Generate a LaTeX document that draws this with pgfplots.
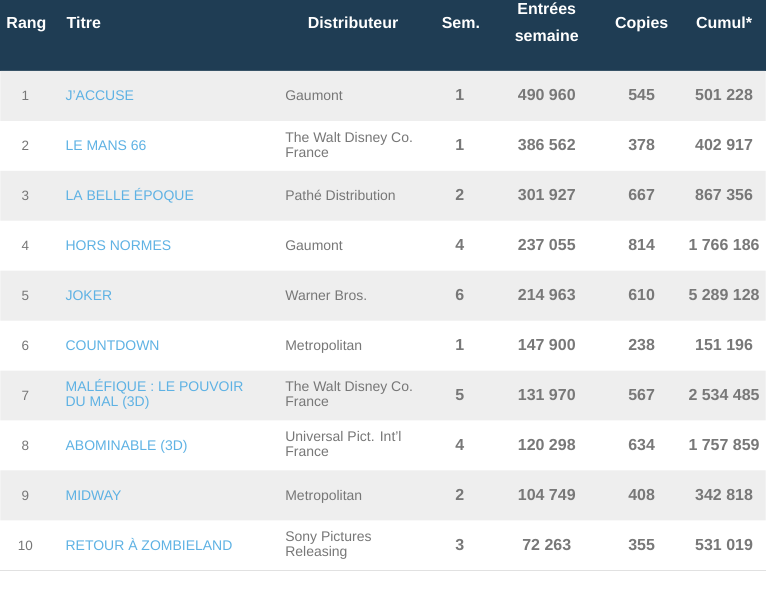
\documentclass[border=0pt]{standalone}
\usepackage{pgfplots}
\usepackage{pgfplotstable}
\usepackage{fontspec}
\setmainfont{Liberation Sans}
\pgfplotsset{compat=1.18}

\definecolor{hdr}{RGB}{31,61,84}
\definecolor{rowgray}{RGB}{238,238,238}
\definecolor{txtgray}{RGB}{119,119,119}
\definecolor{numgray}{RGB}{120,120,120}
\definecolor{titleblue}{RGB}{94,178,228}
\definecolor{linegray}{RGB}{225,225,225}

% header labels (baseline y, centred at x)
\pgfplotstableread[col sep=semicolon]{
x;y;t
26;28.5;Rang
353;28.5;Distributeur
461;28.5;Sem.
547;15;Entrées
547;42;semaine
642;29;Copies
724.5;29;Cumul*
}\headc

% titles (left aligned at x=65)
\pgfplotstableread[col sep=semicolon]{
x;y;t
65;101;J'ACCUSE
65;151;LE MANS 66
65;201;LA BELLE ÉPOQUE
65;251;HORS NORMES
65;301;JOKER
65;351;COUNTDOWN
65;392.5;MALÉFIQUE : LE POUVOIR
65;407.5;DU MAL (3D)
65;451;ABOMINABLE (3D)
65;501;MIDWAY
65;551;RETOUR À ZOMBIELAND
}\titres

% distributors (left aligned at x=285)
\pgfplotstableread[col sep=semicolon]{
x;y;t
285;101;Gaumont
285;142.5;The Walt Disney Co.
285;157.5;France
285;201;Pathé Distribution
285;251;Gaumont
285;301;Warner Bros.
285;351;Metropolitan
285;392.5;The Walt Disney Co.
285;407.5;France
285;442.5;Universal Pict. Int'l
285;457.5;France
285;501;Metropolitan
285;542.5;Sony Pictures
285;557.5;Releasing
}\distrib

% rank
\pgfplotstableread[col sep=semicolon]{
x;y;t
25;101;1
25;151;2
25;201;3
25;251;4
25;301;5
25;351;6
25;401;7
25;451;8
25;501;9
25;551;10
}\rang

% bold figures: weeks, weekly admissions, copies, total
\pgfplotstableread[col sep=semicolon]{
x;y;t
460;101;1
460;151;1
460;201;2
460;251;4
460;301;6
460;351;1
460;401;5
460;451;4
460;501;2
460;551;3
547;101;490 960
547;151;386 562
547;201;301 927
547;251;237 055
547;301;214 963
547;351;147 900
547;401;131 970
547;451;120 298
547;501;104 749
547;551;72 263
642;101;545
642;151;378
642;201;667
642;251;814
642;301;610
642;351;238
642;401;567
642;451;634
642;501;408
642;551;355
724.5;101;501 228
724.5;151;402 917
724.5;201;867 356
724.5;251;1 766 186
724.5;301;5 289 128
724.5;351;151 196
724.5;401;2 534 485
724.5;451;1 757 859
724.5;501;342 818
724.5;551;531 019
}\chiffres

\begin{document}
\begin{tikzpicture}
\begin{axis}[
    width=766bp, height=593bp,
    scale only axis,
    xmin=0, xmax=766, ymin=0, ymax=593,
    y dir=reverse,
    hide axis,
    clip=false,
]
% background, header band, alternating rows
\addplot[fill=white, draw=none] coordinates {(0,0) (766,0) (766,593) (0,593)} -- cycle;
\addplot[fill=hdr, draw=none] coordinates {(0,0) (766,0) (766,71) (0,71)} -- cycle;
\addplot[xbar, bar width=50, bar shift=0pt, fill=rowgray, draw=none]
    coordinates {(766,96) (766,196) (766,296) (766,396) (766,496)};
\addplot[draw=linegray, line width=1bp] coordinates {(0,571.5) (766,571.5)};

% header
\addplot[only marks, mark=none, nodes near coords, point meta=explicit symbolic,
    every node near coord/.append style={anchor=base, inner sep=0pt, text=white,
        font=\fontsize{16bp}{18bp}\selectfont\bfseries}]
    table[x=x, y=y, meta=t] {\headc};
\addplot[only marks, mark=none, nodes near coords, point meta=explicit symbolic,
    every node near coord/.append style={anchor=base west, inner sep=0pt, text=white,
        font=\fontsize{16bp}{18bp}\selectfont\bfseries}]
    coordinates {(66,28.5) [Titre]};

% body
\addplot[only marks, mark=none, nodes near coords, point meta=explicit symbolic,
    every node near coord/.append style={anchor=base, inner sep=0pt, text=txtgray,
        font=\fontsize{13.5bp}{15bp}\selectfont}]
    table[x=x, y=y, meta=t] {\rang};
\addplot[only marks, mark=none, nodes near coords, point meta=explicit symbolic,
    every node near coord/.append style={anchor=base west, inner sep=0pt, text=titleblue,
        font=\fontsize{14bp}{15bp}\selectfont}]
    table[x=x, y=y, meta=t] {\titres};
\addplot[only marks, mark=none, nodes near coords, point meta=explicit symbolic,
    every node near coord/.append style={anchor=base west, inner sep=0pt, text=txtgray,
        font=\fontsize{14bp}{15bp}\selectfont}]
    table[x=x, y=y, meta=t] {\distrib};
\addplot[only marks, mark=none, nodes near coords, point meta=explicit symbolic,
    every node near coord/.append style={anchor=base, inner sep=0pt, text=numgray,
        font=\fontsize{16bp}{18bp}\selectfont\bfseries}]
    table[x=x, y=y, meta=t] {\chiffres};
\end{axis}
\end{tikzpicture}
\end{document}
